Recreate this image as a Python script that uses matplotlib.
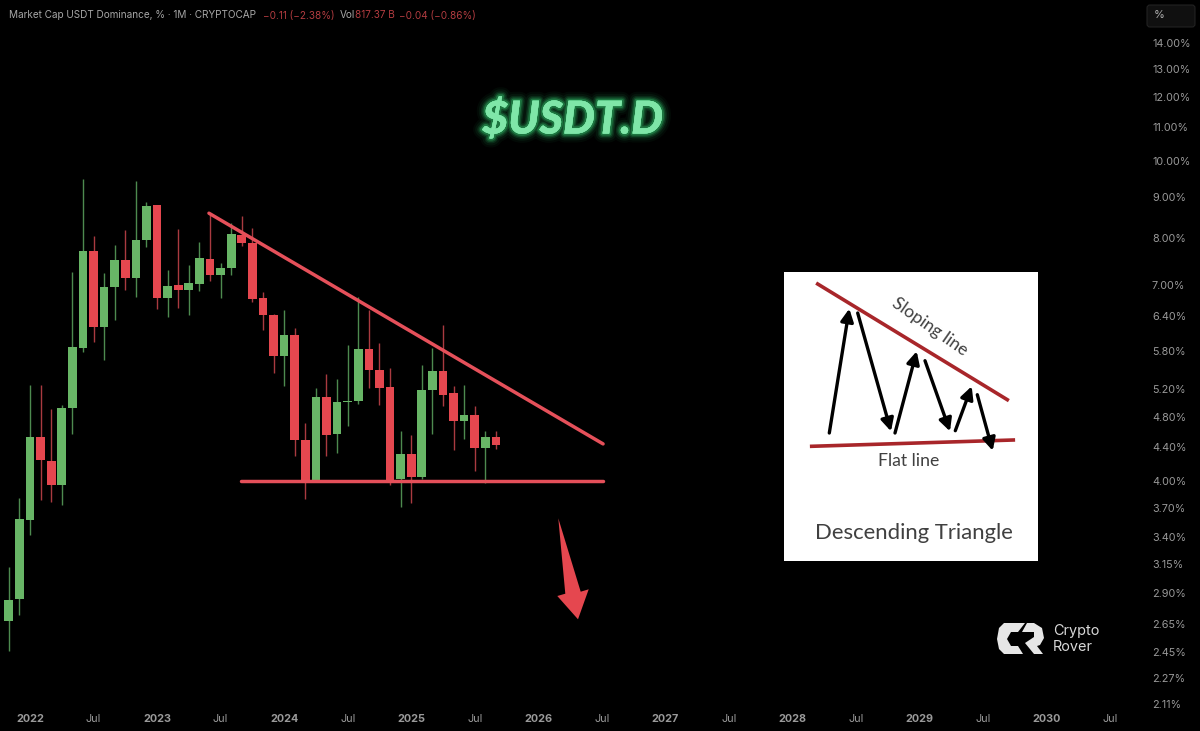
import matplotlib
matplotlib.use("Agg")
import matplotlib.pyplot as plt
import matplotlib.patheffects as pe
from matplotlib.patches import Polygon, Rectangle, FancyBboxPatch
from matplotlib.ticker import NullLocator

# Months counted from Jan 2022 (first candle Nov 2021, last Sep 2025)
months = list(range(-2, 45))
opens = [2.676, 2.850, 3.577, 4.529, 4.232, 3.948, 4.921, 5.852, 7.719, 6.216, 6.957, 7.517,
         7.145, 7.973, 8.797, 6.753, 6.995, 6.910, 7.030, 7.551, 7.207, 7.360, 8.081, 7.898,
         6.753, 6.427, 5.716, 6.074, 4.498, 4.000, 5.087, 4.569, 5.006, 5.025, 5.831, 5.491,
         5.226, 4.023, 4.313, 4.039, 5.186, 5.480, 5.136, 4.745, 4.831, 4.396, 4.533]
highs = [3.124, 3.807, 5.260, 5.260, 4.911, 4.967, 7.275, 9.493, 8.064, 7.254, 7.845, 8.197,
         9.439, 8.888, 8.810, 7.305, 8.213, 7.410, 7.914, 8.598, 7.465, 8.356, 8.533, 8.237,
         6.871, 6.450, 6.520, 6.187, 4.714, 5.220, 5.424, 5.347, 5.902, 6.761, 6.520, 5.927,
         5.518, 4.616, 4.554, 5.576, 5.847, 6.245, 5.244, 5.264, 4.953, 4.608, 4.616]
lows = [2.456, 2.722, 3.423, 3.785, 3.763, 3.731, 4.572, 5.786, 5.949, 5.650, 6.341, 6.904,
        6.761, 7.814, 6.544, 6.396, 6.562, 6.420, 6.880, 7.090, 6.747, 7.207, 7.830, 6.676,
        6.148, 5.445, 5.245, 4.296, 3.793, 3.990, 4.296, 4.326, 4.682, 4.977, 5.220, 4.967,
        3.955, 3.713, 3.750, 4.016, 4.569, 4.953, 4.363, 4.511, 4.116, 3.977, 4.383]
closes = [2.842, 3.587, 4.533, 4.240, 3.948, 4.921, 5.859, 7.719, 6.216, 6.968, 7.517, 7.145,
          7.973, 8.787, 6.753, 6.988, 6.910, 7.037, 7.560, 7.207, 7.347, 8.097, 7.898, 6.734,
          6.420, 5.710, 6.074, 4.494, 3.989, 5.087, 4.559, 5.006, 5.025, 5.831, 5.491, 5.220,
          3.996, 4.320, 4.039, 5.186, 5.480, 5.116, 4.745, 4.831, 4.388, 4.533, 4.426]

y_ticks = [14.0, 13.0, 12.0, 11.0, 10.0, 9.0, 8.0, 7.0, 6.4, 5.8, 5.2, 4.8, 4.4, 4.0,
           3.7, 3.4, 3.15, 2.9, 2.65, 2.45, 2.27, 2.11]
x_ticks = [0, 6, 12, 18, 24, 30, 36, 42, 48, 54, 60, 66, 72, 78, 84, 90, 96, 102]
x_labels = ["2022", "Jul", "2023", "Jul", "2024", "Jul", "2025", "Jul", "2026", "Jul",
            "2027", "Jul", "2028", "Jul", "2029", "Jul", "2030", "Jul"]

# Pattern lines (month, percent)
slope_line_x, slope_line_y = [16.9, 54.12], [8.60, 4.443]
flat_line_x, flat_line_y = [19.93, 54.12], [4.0, 4.0]

GREEN, RED = "#68b566", "#e5474f"
GREEN_W, RED_W = "#4d8a4f", "#a93a40"
BG = "#000000"
FONT = ["Inter", "Roboto", "DejaVu Sans"]
plt.rcParams["font.family"] = FONT

fig = plt.figure(figsize=(12, 7.31), dpi=100, facecolor=BG)
ax = fig.add_axes([0, (731 - 708) / 731, 1145 / 1200, 708 / 731], facecolor=BG)
ax.set_yscale("log")
ax.set_xlim(-2.834, 105.3)
ax.set_ylim(2.086, 15.834)

for m, o, h, l, c in zip(months, opens, highs, lows, closes):
    up = c >= o
    ax.vlines(m, l, h, color=GREEN_W if up else RED_W, lw=1.0, zorder=2)
    ax.bar(m, abs(c - o), bottom=min(o, c), width=0.82, color=GREEN if up else RED,
           linewidth=0, zorder=3)

ax.plot(slope_line_x, slope_line_y, color="#e5505a", lw=2.5, zorder=4, solid_capstyle="round")
ax.plot(flat_line_x, flat_line_y, color="#e5505a", lw=2.5, zorder=4, solid_capstyle="round")

for s in ax.spines.values():
    s.set_visible(False)
ax.yaxis.tick_right()
ax.yaxis.set_minor_locator(NullLocator())
ax.set_yticks(y_ticks)
ax.set_yticklabels([f"{v:.2f}%" for v in y_ticks], fontsize=7.8, color="#999999")
ax.set_xticks(x_ticks)
ax.set_xticklabels(x_labels, fontsize=7.8, color="#999999")
for t in ax.get_xticklabels():
    if t.get_text() != "Jul":
        t.set_fontweight("bold")
ax.tick_params(axis="both", length=0)
ax.tick_params(axis="y", pad=5)
ax.tick_params(axis="x", pad=4.5)

# Overlay in picture pixels for annotations
ov = fig.add_axes([0, 0, 1, 1], facecolor="none")
ov.set_xlim(0, 1200)
ov.set_ylim(731, 0)
ov.axis("off")

# Header
hdr_y = 15.5
for x, s, col in [(9, "Market Cap USDT Dominance, % · 1M · CRYPTOCAP", "#a6a6a6"),
                  (263, "−0.11 (−2.38%)", "#b23c40"),
                  (340, "Vol", "#a6a6a6"),
                  (355, "817.37 B", "#b23c40"),
                  (399, "−0.04 (−0.86%)", "#b23c40")]:
    ov.text(x, hdr_y, s, color=col, fontsize=7.2, va="center", ha="left")

# % button
ov.add_patch(FancyBboxPatch((1149, 7), 44, 18, boxstyle="round,pad=2,rounding_size=3",
                            fc="#101010", ec="#222222", lw=0.8))
ov.text(1159, 15.5, "%", color="#b0b0b0", fontsize=8, va="center", ha="center")

# Title with soft glow
glow = [pe.withStroke(linewidth=w, foreground="#2fb765", alpha=a)
        for w, a in [(13, 0.05), (10, 0.08), (7, 0.14), (5, 0.22), (3, 0.4)]]
ov.text(572.5, 120, "$USDT.D", color="#7fe6a8", fontsize=32.5, fontweight="black", style="italic",
        family=["Lato", "DejaVu Sans"], ha="center", va="center",
        path_effects=glow + [pe.Normal()])

# Down arrow
ov.add_patch(Polygon([(558.3, 518.3), (580.7, 591.7), (588.7, 589.3), (578, 619.3),
                      (557.3, 596), (565.3, 593.7)], closed=True, fc="#e5474f", ec="none"))

# Descending triangle inset
ov.add_patch(Rectangle((784, 272), 254, 289, fc="#ffffff", ec="none", zorder=1))
ov.plot([817.7, 1007.3], [284, 399.7], color="#a8262a", lw=2.6, zorder=2)
ov.plot([811.7, 1013.3], [446.3, 440], color="#a8262a", lw=2.6, zorder=2)
inset_arrows = [((829.3, 433), (849.3, 308.7)), ((857.7, 313), (891, 431.3)),
                ((895, 433), (916.7, 351.3)), ((925, 360.7), (950, 431.3)),
                ((955.3, 430.7), (971.7, 386.3)), ((977.3, 394.7), (992.7, 450.7))]
for a, b in inset_arrows:
    ov.annotate("", xy=b, xytext=a, zorder=3,
                arrowprops=dict(arrowstyle="-|>,head_length=0.75,head_width=0.38", color="black",
                                lw=2.4, shrinkA=0, shrinkB=0, mutation_scale=10))
LATO = ["Lato", "DejaVu Sans"]
ov.text(930, 327, "Sloping line", color="#404040", fontsize=12.6, family=LATO, rotation=-35,
        ha="center", va="center", rotation_mode="anchor", zorder=3)
ov.text(909, 461, "Flat line", color="#404040", fontsize=12.7, family=LATO,
        ha="center", va="center", zorder=3)
ov.text(914, 533, "Descending Triangle", color="#404040", fontsize=15.9, family=LATO,
        ha="center", va="center", zorder=3)

# Logo
ov.add_patch(Polygon([(1004, 623), (1025, 623), (1018, 632), (1011, 632), (1007, 639), (1011, 646),
                      (1018, 646), (1023, 654), (1004, 654), (999, 649), (997, 639), (999, 628)],
                     closed=True, fc="#e6e6e6", ec="none"))
ov.add_patch(Polygon([(1027, 623), (1034, 623), (1042, 628), (1044, 638), (1040, 645), (1037, 646),
                      (1043, 654), (1034, 654), (1025, 643), (1034, 637), (1034, 632), (1022, 632)],
                     closed=True, fc="#e6e6e6", ec="none"))
ov.text(1053, 631, "Crypto", color="#d8d8d8", fontsize=10.4, va="center", ha="left")
ov.text(1053, 647, "Rover", color="#d8d8d8", fontsize=10.4, va="center", ha="left")

fig.savefig("out.png", dpi=100, facecolor=BG)
